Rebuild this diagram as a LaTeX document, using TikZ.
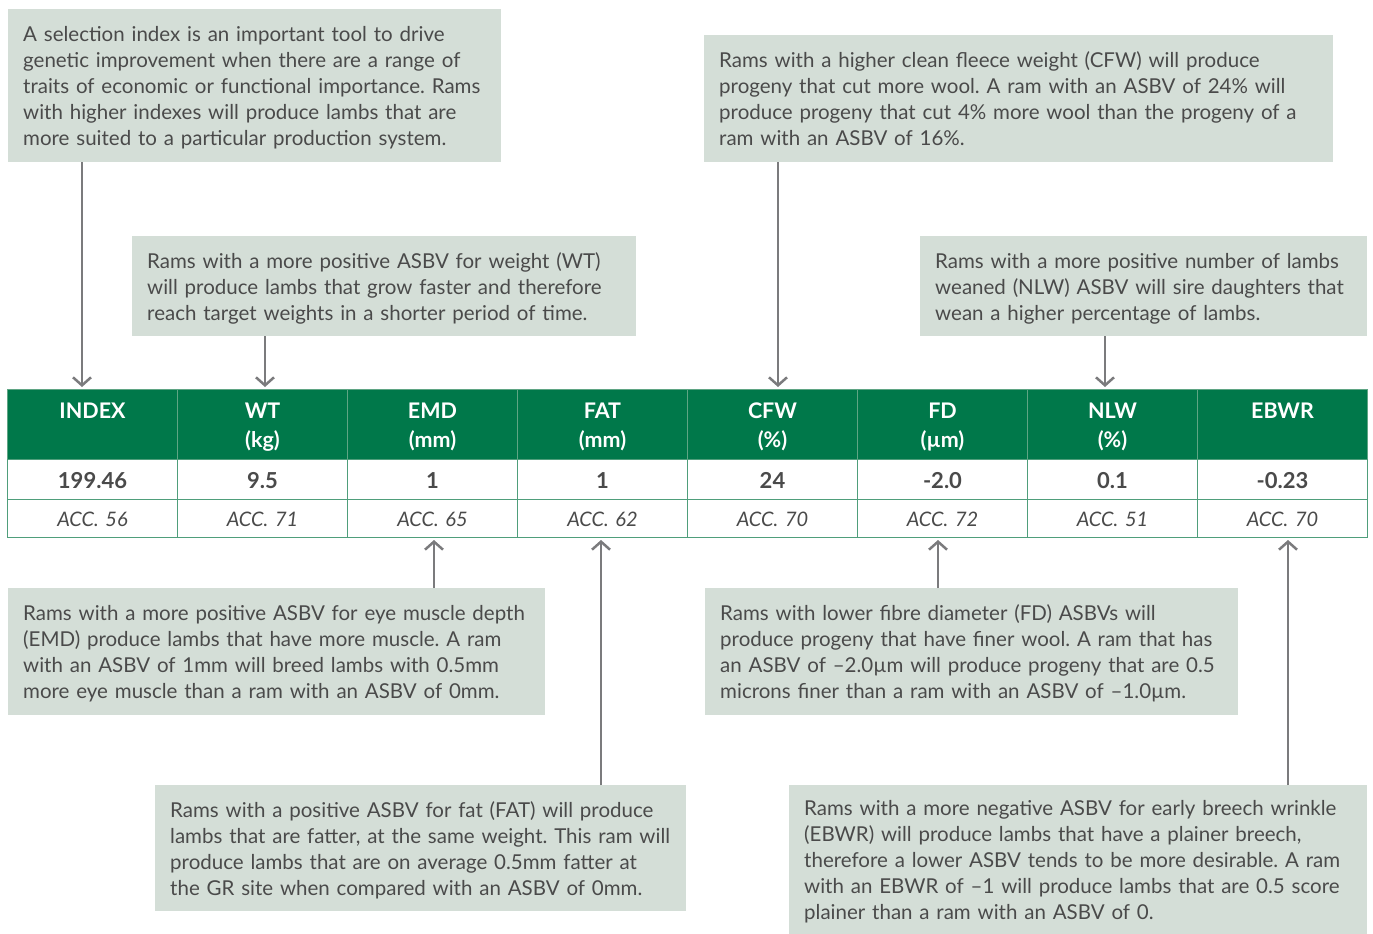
\documentclass[tikz,border=0pt]{standalone}
\usepackage{fontspec}
\setmainfont{Lato}
\usetikzlibrary{arrows.meta}
\definecolor{boxfill}{HTML}{D4DED7}
\definecolor{txt}{HTML}{4A4A4A}
\definecolor{hdr}{HTML}{00784A}
\definecolor{hsep}{HTML}{5FA584}
\definecolor{gridc}{HTML}{4F9E7B}
\definecolor{arr}{HTML}{7B7B7D}
\newcommand\tl[1]{\mbox{#1}}
\frenchspacing
\begin{document}
\begin{tikzpicture}[x=1pt,y=-1pt,
  struts/.style 2 args={execute at begin node={\rule{0pt}{#1}}, execute at end node={\rule[-#2]{0pt}{0pt}}},
  note/.style={fill=boxfill, text=txt, align=left, anchor=north west,
    inner xsep=15pt, inner ysep=0pt, font=\fontsize{20.5}{26}\selectfont, struts={23pt}{7pt}},
  cellbase/.style={line width=1pt, anchor=north west, minimum width=170pt, text width=170pt,
    inner sep=0pt, align=center},
  hcell/.style={cellbase, fill=hdr, draw=hsep, minimum height=70pt, text=white,
    font=\fontsize{21.5}{29}\selectfont\bfseries, struts={22pt}{5pt}},
  vcell/.style={cellbase, fill=white, draw=gridc, minimum height=40pt, text=txt,
    font=\fontsize{22}{24}\selectfont\bfseries, struts={20pt}{2pt}},
  acell/.style={cellbase, fill=white, draw=gridc, minimum height=38pt, text=txt,
    font=\fontsize{20}{22}\selectfont\itshape, struts={18pt}{2pt}},
  conn/.style={draw=arr, line width=2.5pt, -{Straight Barb[length=8pt,width=18pt]}, shorten >=2pt}
]
\useasboundingbox (0,0) rectangle (1373,934);

% notes
\node[note, text width=463pt, minimum height=153pt] (nIndex) at (8,9)
 {\tl{A selection index is an important tool to drive}\\
  \tl{genetic improvement when there are a range of}\\
  \tl{traits of economic or functional importance. Rams}\\
  \tl{with higher indexes will produce lambs that are}\\
  \tl{more suited to a particular production system.}};
\node[note, text width=474pt, minimum height=100pt] (nWT) at (132,236)
 {\tl{Rams with a more positive ASBV for weight (WT)}\\
  \tl{will produce lambs that grow faster and therefore}\\
  \tl{reach target weights in a shorter period of time.}};
\node[note, text width=599pt, minimum height=127pt] (nCFW) at (704,35)
 {\tl{Rams with a higher clean fleece weight (CFW) will produce}\\
  \tl{progeny that cut more wool. A ram with an ASBV of 24\% will}\\
  \tl{produce progeny that cut 4\% more wool than the progeny of a}\\
  \tl{ram with an ASBV of 16\%.}};
\node[note, text width=417pt, minimum height=100pt] (nNLW) at (920,236)
 {\tl{Rams with a more positive number of lambs}\\
  \tl{weaned (NLW) ASBV will sire daughters that}\\
  \tl{wean a higher percentage of lambs.}};
\node[note, text width=507pt, minimum height=127pt] (nEMD) at (8,588)
 {\tl{Rams with a more positive ASBV for eye muscle depth}\\
  \tl{(EMD) produce lambs that have more muscle. A ram}\\
  \tl{with an ASBV of 1mm will breed lambs with 0.5mm}\\
  \tl{more eye muscle than a ram with an ASBV of 0mm.}};
\node[note, text width=501pt, minimum height=126pt] (nFAT) at (155,785)
 {\tl{Rams with a positive ASBV for fat (FAT) will produce}\\
  \tl{lambs that are fatter, at the same weight. This ram will}\\
  \tl{produce lambs that are on average 0.5mm fatter at}\\
  \tl{the GR site when compared with an ASBV of 0mm.}};
\node[note, text width=503pt, minimum height=127pt] (nFD) at (705,588)
 {\tl{Rams with lower fibre diameter (FD) ASBVs will}\\
  \tl{produce progeny that have finer wool. A ram that has}\\
  \tl{an ASBV of –2.0µm will produce progeny that are 0.5}\\
  \tl{microns finer than a ram with an ASBV of –1.0µm.}};
\node[note, text width=548pt, minimum height=149pt] (nEBWR) at (789,785)
 {\tl{Rams with a more negative ASBV for early breech wrinkle}\\
  \tl{(EBWR) will produce lambs that have a plainer breech,}\\
  \tl{therefore a lower ASBV tends to be more desirable. A ram}\\
  \tl{with an EBWR of –1 will produce lambs that are 0.5 score}\\
  \tl{plainer than a ram with an ASBV of 0.}};

% table
\foreach \i/\h/\v/\a in {0/INDEX\\\mbox{}/199.46/56, 1/WT\\(kg)/9.5/71, 2/EMD\\(mm)/1/65,
  3/FAT\\(mm)/1/62, 4/CFW\\(\%)/24/70, 5/FD\\(µm)/-2.0/72, 6/NLW\\(\%)/0.1/51, 7/EBWR\\\mbox{}/-0.23/70} {
  \node[hcell] (h\i) at ({7+170*\i},389) {\h};
  \node[vcell] (v\i) at ({7+170*\i},459) {\v};
  \node[acell] (a\i) at ({7+170*\i},499) {ACC. \a};
}

% connectors
\draw[conn] (nIndex.south -| 82,0) -- (h0.north -| 82,0);
\draw[conn] (nWT.south -| 265,0) -- (h1.north -| 265,0);
\draw[conn] (nCFW.south -| 778,0) -- (h4.north -| 778,0);
\draw[conn] (nNLW.south -| 1105,0) -- (h6.north -| 1105,0);
\draw[conn] (nEMD.north -| 434,0) -- (a2.south -| 434,0);
\draw[conn] (nFAT.north -| 601,0) -- (a3.south -| 601,0);
\draw[conn] (nFD.north -| 938,0) -- (a5.south -| 938,0);
\draw[conn] (nEBWR.north -| 1288,0) -- (a7.south -| 1288,0);
\end{tikzpicture}
\end{document}
